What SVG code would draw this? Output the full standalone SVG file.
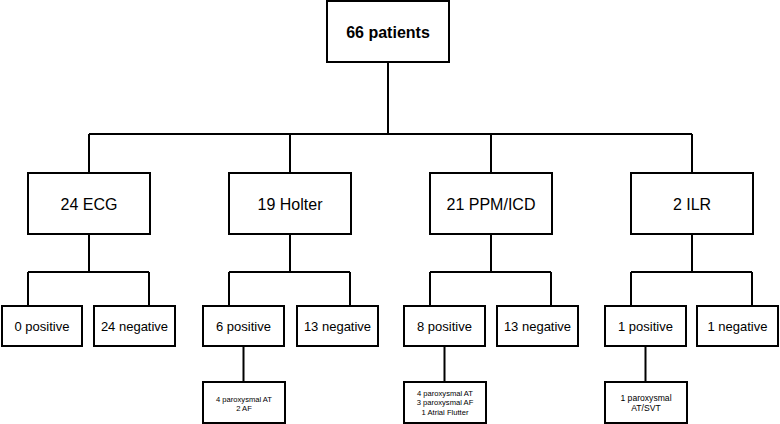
<svg xmlns="http://www.w3.org/2000/svg" width="780" height="424" viewBox="0 0 780 424">
<style>
rect{fill:#fff;stroke:#000;stroke-width:2}
.c path{fill:none;stroke:#000;stroke-width:2}
text{font-family:"Liberation Sans",Arial,Helvetica,sans-serif;fill:#000;text-anchor:middle}
.t{font-size:16px;font-weight:bold}
.m{font-size:16px}
.l{font-size:13px}
.s{font-size:7.6px}
.s2{font-size:8.6px}
</style>
<rect width="780" height="424" style="fill:#fff;stroke:none"/>
<g class="c" id="connectors">
<path d="M388 62V134M89 134H692M89 134V173M290 134V173M491 134V173M692 134V173"/>
<path d="M89 234V272M28 272H149M28 272V306M149 272V306"/>
<path d="M290 234V272M229 272H350M229 272V306M350 272V306"/>
<path d="M491 234V272M430 272H551M430 272V306M551 272V306"/>
<path d="M692 234V272M631 272H752M631 272V306M752 272V306"/>
<path d="M243.5 346V382M444.5 346V382M645.5 346V382"/>
</g>
<g id="root"><rect x="327" y="1" width="122" height="61"/><text class="t" x="388" y="37.5">66 patients</text></g>
<g id="ecg"><rect x="28" y="173" width="122" height="61"/><text class="m" x="89" y="209.5">24 ECG</text></g>
<g id="holter"><rect x="229" y="173" width="122" height="61"/><text class="m" x="290" y="209.5">19 Holter</text></g>
<g id="ppm"><rect x="430" y="173" width="122" height="61"/><text class="m" x="491" y="209.5">21 PPM/ICD</text></g>
<g id="ilr"><rect x="631" y="173" width="122" height="61"/><text class="m" x="692" y="209.5">2 ILR</text></g>
<g id="ecg-pos"><rect x="2" y="306" width="80" height="40"/><text class="l" x="42" y="330.5">0 positive</text></g>
<g id="ecg-neg"><rect x="94" y="306" width="81" height="40"/><text class="l" x="134.5" y="330.5">24 negative</text></g>
<g id="holter-pos"><rect x="203" y="306" width="81" height="40"/><text class="l" x="243.5" y="330.5">6 positive</text></g>
<g id="holter-neg"><rect x="297" y="306" width="81" height="40"/><text class="l" x="337.5" y="330.5">13 negative</text></g>
<g id="ppm-pos"><rect x="404" y="306" width="81" height="40"/><text class="l" x="444.5" y="330.5">8 positive</text></g>
<g id="ppm-neg"><rect x="497" y="306" width="81" height="40"/><text class="l" x="537.5" y="330.5">13 negative</text></g>
<g id="ilr-pos"><rect x="605" y="306" width="81" height="40"/><text class="l" x="645.5" y="330.5">1 positive</text></g>
<g id="ilr-neg"><rect x="697" y="306" width="81" height="40"/><text class="l" x="737.5" y="330.5">1 negative</text></g>
<g id="holter-detail"><rect x="203" y="382" width="82" height="41"/><text class="s" x="244" y="402">4 paroxysmal AT</text><text class="s" x="244" y="410.5">2 AF</text></g>
<g id="ppm-detail"><rect x="404" y="382" width="82" height="41"/><text class="s" x="445" y="395.5">4 paroxysmal AT</text><text class="s" x="445" y="405">3 paroxysmal AF</text><text class="s" x="445" y="414.5">1 Atrial Flutter</text></g>
<g id="ilr-detail"><rect x="605" y="382" width="82" height="41"/><text class="s2" x="646" y="401">1 paroxysmal</text><text class="s2" x="646" y="411">AT/SVT</text></g>
</svg>
